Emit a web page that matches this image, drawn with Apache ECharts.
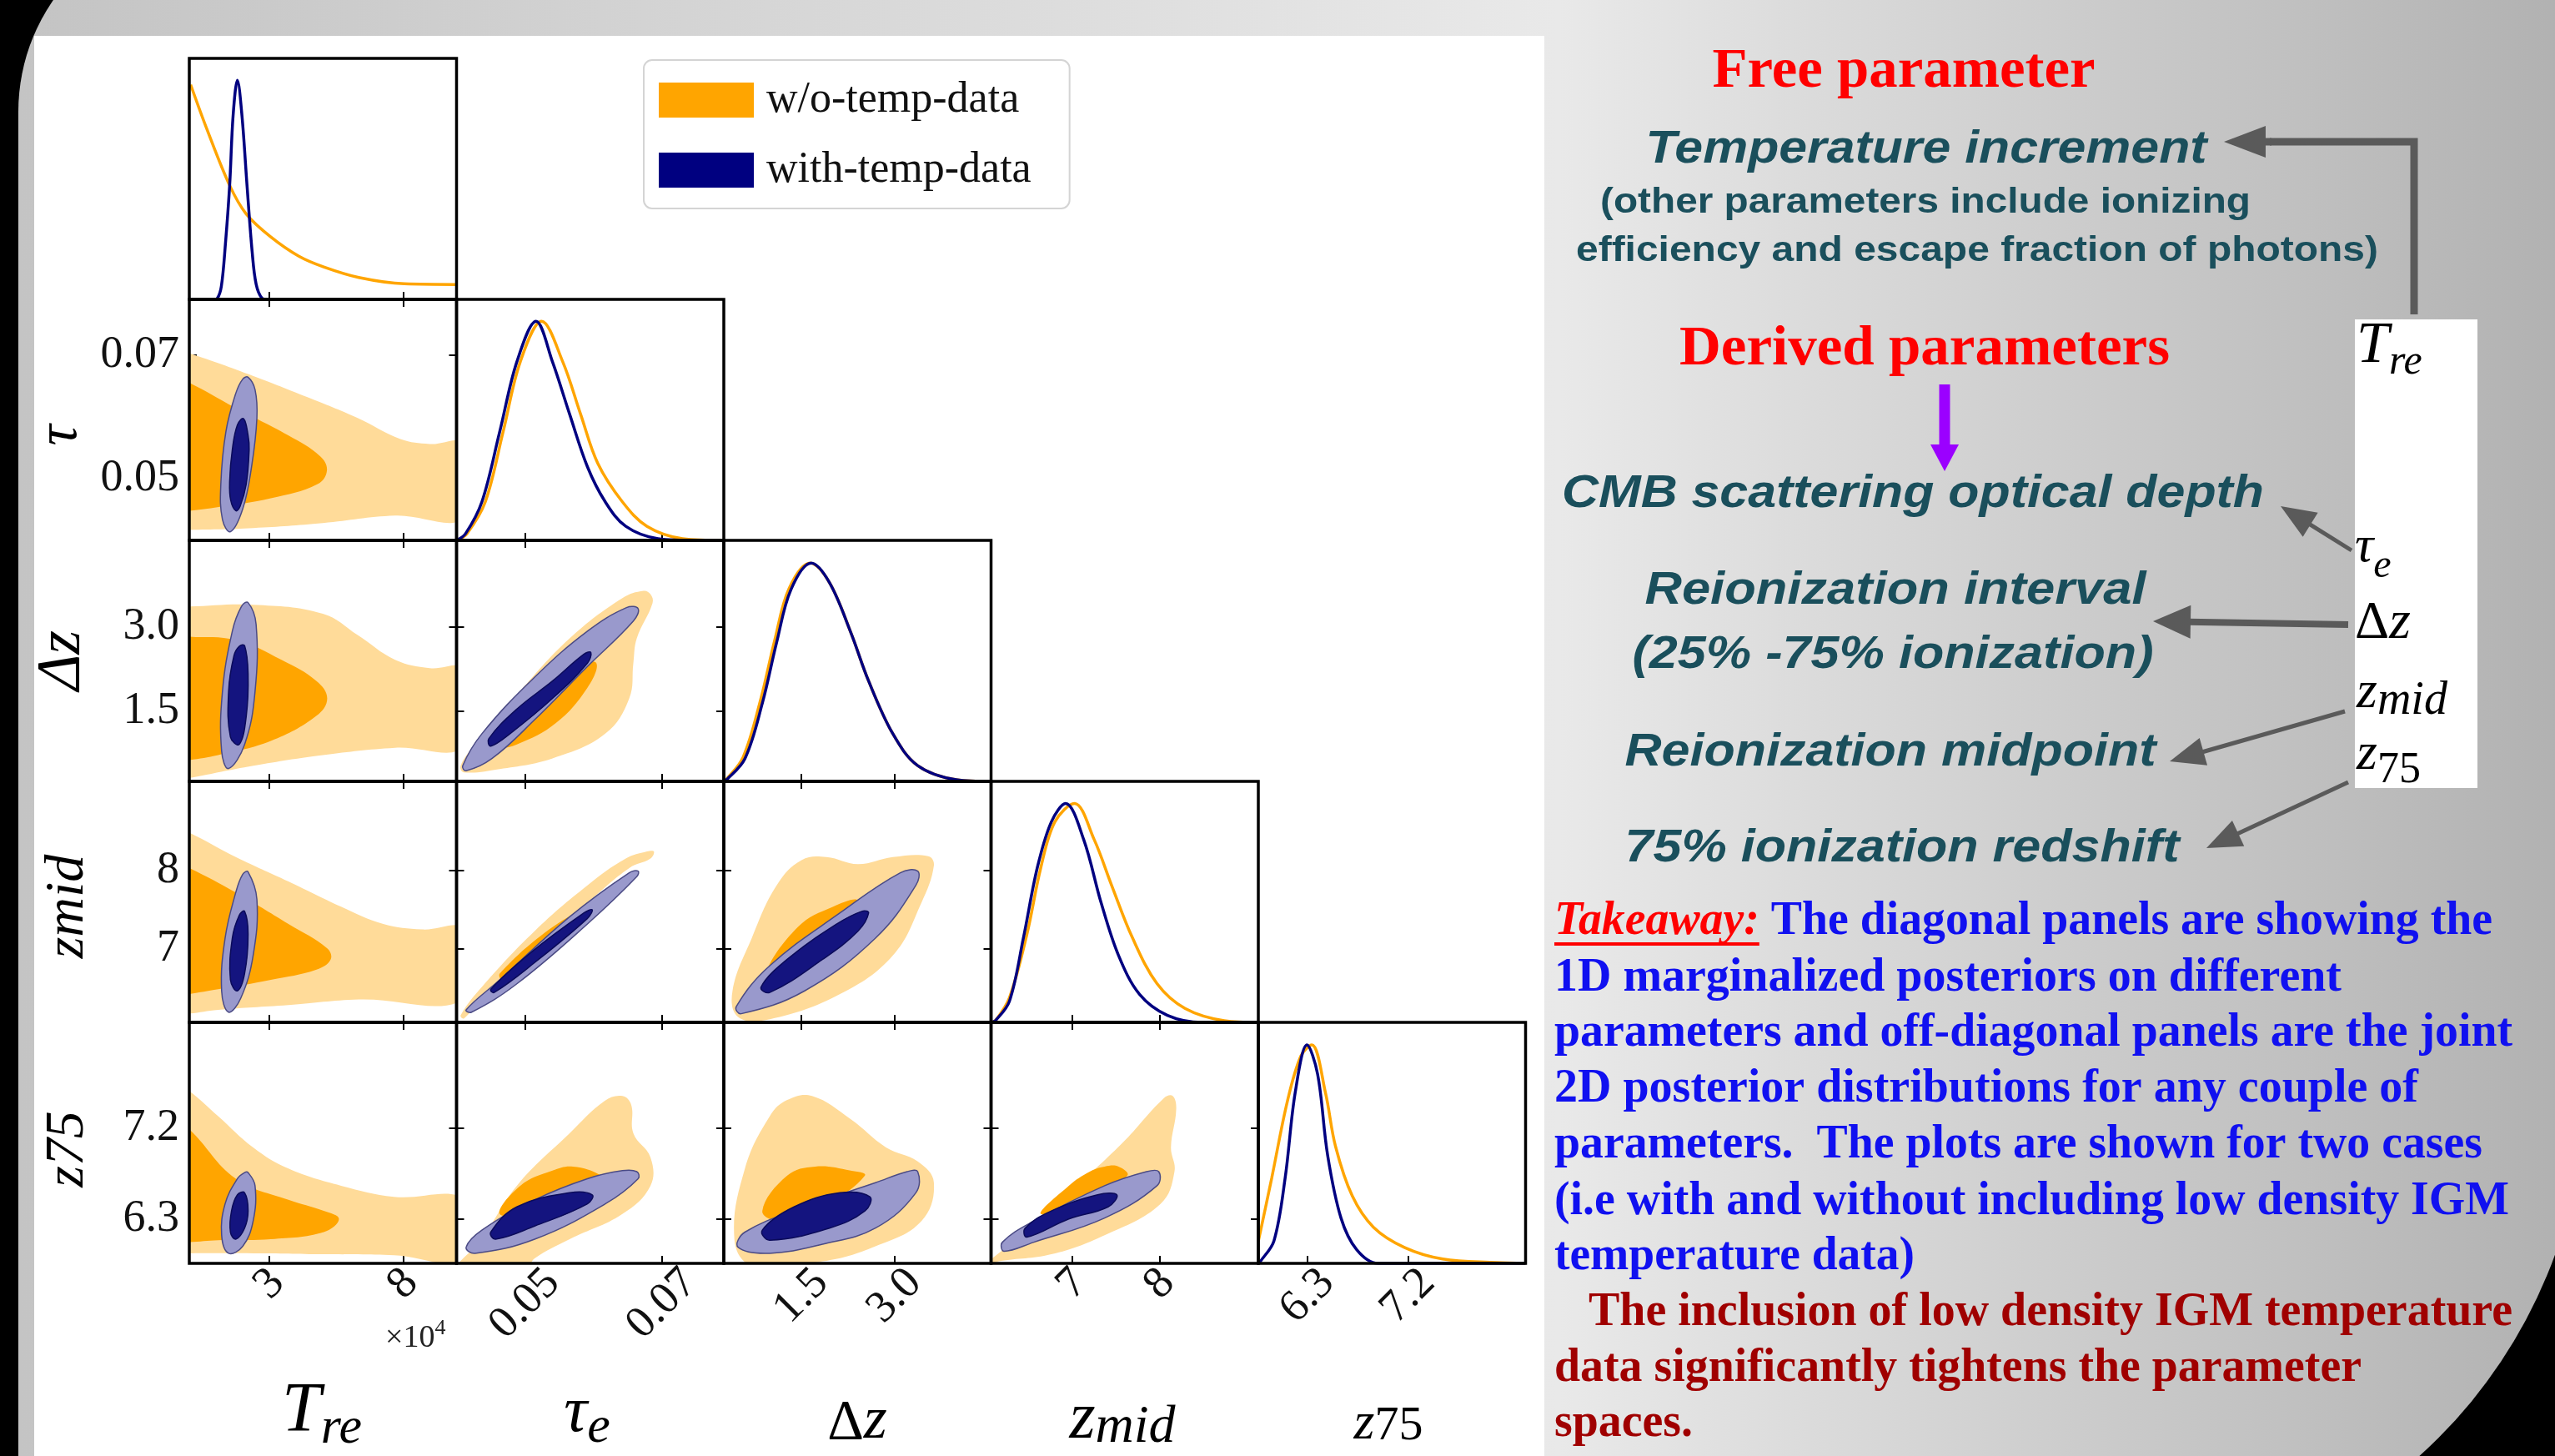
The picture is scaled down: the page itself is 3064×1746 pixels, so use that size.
<!DOCTYPE html>
<html lang="en">
<head>
<meta charset="UTF-8">
<title>Reionization posteriors</title>
<script src="https://cdn.jsdelivr.net/npm/echarts@6/dist/echarts.min.js"></script>
<style>
  html, body { margin: 0; padding: 0; background: #000; }
  #main { width: 3064px; height: 1746px; }
</style>
</head>
<body>
<div id="main"></div>
<script>
var chartDom = document.getElementById('main');
var myChart = echarts.init(chartDom);

// parameters: T_re (x1e4), tau_e, delta z, z_mid, z_75
var paramMin = [0, 0.040, 0.25, 6.07, 5.86];
var paramMax = [10, 0.079, 4.55, 9.13, 8.25];
var paramTicks = [[3, 8], [0.05, 0.07], [1.5, 3.0], [7, 8], [6.3, 7.2]];
var paramDigits = [0, 2, 1, 0, 1];

// 1D marginals, [value, normalised density]
var margT_wo = [[0.05, 0.98], [0.68, 0.77], [1.51, 0.52], [2.13, 0.39], [3.05, 0.285], [4.1, 0.197], [5.03, 0.148], [6.34, 0.1], [8.05, 0.071], [10, 0.068]];
var margT_with = [[0.9, 0], [1.05, 0.005], [1.2, 0.06], [1.35, 0.25], [1.51, 0.52], [1.64, 0.84], [1.8, 1.0], [1.97, 0.84], [2.16, 0.52], [2.35, 0.22], [2.5, 0.07], [2.72, 0.005], [2.9, 0]];
var margTau_wo = [[0.0400, 0], [0.0415, 0.03], [0.0442, 0.176], [0.0468, 0.496], [0.0493, 0.815], [0.0524, 1.0], [0.0555, 0.815], [0.0581, 0.576], [0.0606, 0.352], [0.0642, 0.176], [0.0678, 0.064], [0.073, 0.008], [0.079, 0]];
var margTau_with = [[0.0400, 0], [0.0413, 0.03], [0.0437, 0.176], [0.0463, 0.496], [0.0488, 0.815], [0.0516, 1.0], [0.054, 0.815], [0.0565, 0.576], [0.0591, 0.336], [0.0617, 0.176], [0.0647, 0.064], [0.0694, 0.008], [0.075, 0]];
var margDz_wo = [[0.25, 0], [0.28, 0.005], [0.56, 0.11], [0.84, 0.37], [1.07, 0.645], [1.30, 0.88], [1.64, 0.996], [1.95, 0.907], [2.29, 0.682], [2.58, 0.458], [2.97, 0.217], [3.37, 0.072], [3.99, 0.008], [4.55, 0]];
var margDz_with = [[0.25, 0], [0.28, 0.003], [0.59, 0.104], [0.874, 0.361], [1.10, 0.634], [1.33, 0.875], [1.657, 0.996], [1.95, 0.907], [2.29, 0.682], [2.58, 0.458], [2.97, 0.217], [3.37, 0.072], [3.99, 0.008], [4.55, 0]];
var margZmid_wo = [[6.07, 0], [6.12, 0.008], [6.28, 0.112], [6.48, 0.401], [6.64, 0.707], [6.80, 0.915], [7.025, 0.999], [7.25, 0.835], [7.45, 0.626], [7.69, 0.385], [7.97, 0.177], [8.29, 0.064], [8.74, 0.008], [9.13, 0]];
var margZmid_with = [[6.07, 0], [6.12, 0.008], [6.28, 0.096], [6.44, 0.385], [6.60, 0.707], [6.76, 0.915], [6.924, 0.999], [7.13, 0.835], [7.33, 0.546], [7.53, 0.305], [7.77, 0.128], [8.09, 0.032], [8.49, 0], [9.13, 0]];
var margZ75_wo = [[5.86, 0.1], [5.98, 0.39], [6.12, 0.74], [6.24, 0.946], [6.338, 0.997], [6.46, 0.78], [6.55, 0.535], [6.70, 0.308], [6.89, 0.165], [7.17, 0.072], [7.51, 0.02], [7.99, 0.004], [8.25, 0]];
var margZ75_with = [[5.86, 0], [5.88, 0.01], [6.0, 0.103], [6.10, 0.39], [6.19, 0.78], [6.295, 0.997], [6.39, 0.864], [6.48, 0.493], [6.60, 0.206], [6.74, 0.062], [6.93, 0], [8.25, 0]];

// 2D contours (outer = 95%, inner = 68%), [x, y] in data units
var tauT_woOuter = [[-0.3, 0.0705], [0, 0.0703], [2.4, 0.0666], [4.4, 0.0632], [6.3, 0.0598], [7.9, 0.0564], [9, 0.0556], [10.3, 0.0556], [10.3, 0.0437], [7.7, 0.044], [5, 0.0428], [2.4, 0.042], [0, 0.0417], [-0.3, 0.0417]];
var tauT_woInner = [[-0.3, 0.0657], [0, 0.0655], [1.7, 0.0615], [3.7, 0.057], [4.9, 0.0536], [5.15, 0.0513], [4.8, 0.0491], [3.05, 0.0468], [1.1, 0.0454], [0, 0.0448], [-0.3, 0.0448]];
var tauT_wOuter = [[2.2, 0.0664], [2.46, 0.0644], [2.53, 0.0598], [2.33, 0.0519], [2.0, 0.0451], [1.54, 0.0414], [1.24, 0.0434], [1.18, 0.0491], [1.37, 0.0576], [1.74, 0.0638], [2.0, 0.0661]];
var tauT_wInner = [[2.03, 0.0597], [2.2, 0.057], [2.24, 0.0547], [2.13, 0.0491], [1.9, 0.0455], [1.74, 0.0448], [1.55, 0.0465], [1.51, 0.0495], [1.61, 0.0547], [1.8, 0.0587]];

var dzT_woOuter = [[-0.3, 3.37], [0, 3.37], [2.4, 3.40], [5.0, 3.24], [6.3, 2.86], [7.7, 2.42], [9, 2.27], [10.3, 2.25], [10.3, 0.88], [7.7, 0.85], [5, 0.72], [2.4, 0.53], [0, 0.31], [-0.3, 0.29]];
var dzT_woInner = [[-0.3, 2.84], [0, 2.83], [1.74, 2.77], [3.45, 2.42], [4.76, 2.04], [5.16, 1.73], [4.76, 1.42], [3.05, 0.97], [1.08, 0.72], [0, 0.63], [-0.3, 0.62]];
var dzT_wOuter = [[2.2, 3.44], [2.5, 3.05], [2.46, 1.85], [2.07, 0.91], [1.47, 0.48], [1.21, 0.79], [1.24, 1.85], [1.61, 2.93], [1.95, 3.37]];
var dzT_wInner = [[2.07, 2.67], [2.2, 2.17], [2.13, 1.41], [1.87, 0.91], [1.54, 1.04], [1.47, 1.85], [1.67, 2.49], [1.87, 2.66]];

var zmidT_woOuter = [[-0.3, 8.5], [0, 8.48], [1.74, 8.17], [3.71, 7.86], [5.68, 7.54], [7.26, 7.32], [8.71, 7.25], [10.3, 7.25], [10.3, 6.37], [6.34, 6.36], [3.71, 6.29], [1.08, 6.23], [0, 6.18], [-0.3, 6.17]];
var zmidT_woInner = [[-0.3, 8.05], [0, 8.03], [1.74, 7.72], [3.71, 7.32], [5.16, 7.01], [5.29, 6.87], [4.76, 6.74], [3.05, 6.61], [1.08, 6.49], [0, 6.43], [-0.3, 6.42]];
var zmidT_wOuter = [[2.2, 7.98], [2.53, 7.63], [2.39, 6.92], [1.93, 6.38], [1.47, 6.2], [1.21, 6.47], [1.34, 7.14], [1.74, 7.72], [2.0, 7.95]];
var zmidT_wInner = [[2.07, 7.48], [2.2, 7.19], [2.07, 6.69], [1.8, 6.47], [1.54, 6.61], [1.61, 7.14], [1.87, 7.43]];

var z75T_woOuter = [[-0.3, 7.6], [0, 7.57], [1.08, 7.32], [2.39, 7.01], [3.71, 6.80], [5.68, 6.63], [7.66, 6.52], [10.3, 6.49], [10.3, 5.90], [7.66, 5.94], [5.03, 5.95], [2.39, 5.96], [0, 5.96], [-0.3, 5.96]];
var z75T_woInner = [[-0.3, 7.2], [0, 7.19], [1.74, 6.70], [3.71, 6.49], [5.03, 6.38], [5.6, 6.30], [5.03, 6.17], [3.05, 6.10], [1.08, 6.09], [0, 6.07], [-0.3, 6.07]];
var z75T_wOuter = [[2.2, 6.76], [2.46, 6.63], [2.39, 6.28], [2.0, 6.03], [1.47, 5.96], [1.21, 6.14], [1.34, 6.45], [1.8, 6.70], [2.07, 6.76]];
var z75T_wInner = [[2.07, 6.56], [2.2, 6.38], [2.07, 6.21], [1.74, 6.10], [1.54, 6.17], [1.58, 6.38], [1.8, 6.54]];

var dzTau_woOuter = [[0.0683, 3.59], [0.0686, 3.43], [0.0663, 2.80], [0.0658, 2.36], [0.0652, 1.73], [0.0617, 1.10], [0.054, 0.66], [0.0463, 0.47], [0.0411, 0.41], [0.0406, 0.53], [0.0427, 0.91], [0.0488, 1.79], [0.0565, 2.80], [0.0642, 3.52], [0.0673, 3.65]];
var dzTau_woInner = [[0.0452, 0.97], [0.0514, 1.73], [0.0575, 2.30], [0.0604, 2.36], [0.0591, 1.92], [0.0545, 1.29], [0.0488, 0.91], [0.0457, 0.85]];
var dzTau_wOuter = [[0.0665, 3.33], [0.0658, 3.11], [0.0591, 2.30], [0.0514, 1.35], [0.0452, 0.66], [0.0414, 0.44], [0.0409, 0.53], [0.0437, 1.10], [0.0514, 2.11], [0.0591, 2.93], [0.0648, 3.35]];
var dzTau_wInner = [[0.0596, 2.55], [0.0591, 2.36], [0.054, 1.73], [0.0478, 1.10], [0.045, 0.88], [0.0447, 1.01], [0.0488, 1.54], [0.054, 2.04], [0.0586, 2.52]];

var zmidTau_woOuter = [[0.0688, 8.24], [0.0683, 8.15], [0.0652, 8.03], [0.0591, 7.59], [0.0514, 7.01], [0.0437, 6.38], [0.0411, 6.12], [0.0406, 6.16], [0.0437, 6.52], [0.0514, 7.23], [0.0591, 7.81], [0.0647, 8.15], [0.0678, 8.24]];
var zmidTau_woInner = [[0.0463, 6.69], [0.054, 7.28], [0.0598, 7.54], [0.0596, 7.46], [0.054, 7.10], [0.0468, 6.61]];
var zmidTau_wOuter = [[0.0665, 7.99], [0.0663, 7.92], [0.0591, 7.32], [0.0488, 6.56], [0.0422, 6.20], [0.0414, 6.23], [0.0463, 6.61], [0.0565, 7.41], [0.0652, 7.97]];
var zmidTau_wInner = [[0.0598, 7.50], [0.0591, 7.39], [0.0514, 6.83], [0.0455, 6.45], [0.045, 6.49], [0.0509, 6.96], [0.0586, 7.46]];

var z75Tau_woOuter = [[0.0642, 7.52], [0.0655, 7.43], [0.0658, 7.15], [0.0683, 6.91], [0.0683, 6.63], [0.0642, 6.35], [0.0565, 6.10], [0.0514, 5.91], [0.050, 5.80], [0.0402, 5.80], [0.0437, 6.10], [0.0488, 6.63], [0.0565, 7.15], [0.0616, 7.47]];
var z75Tau_woInner = [[0.057, 6.82], [0.0611, 6.73], [0.0617, 6.63], [0.0514, 6.38], [0.0463, 6.35], [0.0493, 6.63], [0.054, 6.78]];
var z75Tau_wOuter = [[0.0663, 6.77], [0.0665, 6.70], [0.0617, 6.45], [0.0514, 6.10], [0.0427, 5.96], [0.0414, 6.02], [0.0437, 6.19], [0.0514, 6.49], [0.0591, 6.70], [0.0642, 6.78]];
var z75Tau_wInner = [[0.0598, 6.54], [0.0591, 6.45], [0.0514, 6.23], [0.0457, 6.10], [0.045, 6.17], [0.0488, 6.42], [0.0565, 6.56]];

var zmidDz_woOuter = [[1.90, 8.17], [2.41, 8.08], [2.97, 8.17], [3.54, 8.18], [3.63, 8.06], [3.43, 7.59], [2.97, 6.92], [2.12, 6.43], [0.99, 6.11], [0.48, 6.14], [0.39, 6.47], [0.70, 7.14], [1.10, 7.81], [1.50, 8.13]];
var zmidDz_woInner = [[0.93, 6.69], [1.44, 7.28], [2.01, 7.54], [2.41, 7.61], [2.12, 7.14], [1.27, 6.74]];
var zmidDz_wOuter = [[3.37, 7.99], [3.34, 7.81], [2.69, 7.14], [1.55, 6.47], [0.53, 6.18], [0.45, 6.27], [0.99, 6.79], [2.12, 7.46], [3.09, 7.97]];
var zmidDz_wInner = [[2.58, 7.46], [2.41, 7.23], [1.84, 6.87], [0.99, 6.45], [0.85, 6.52], [1.27, 6.87], [2.07, 7.32], [2.47, 7.48]];

var z75Dz_woOuter = [[1.67, 7.52], [2.29, 7.29], [2.86, 7.01], [3.37, 6.87], [3.63, 6.66], [3.43, 6.28], [2.69, 6.03], [1.84, 5.88], [0.70, 5.84], [0.42, 6.10], [0.59, 6.80], [0.99, 7.32], [1.27, 7.48]];
var z75Dz_woInner = [[0.87, 6.38], [1.27, 6.73], [1.72, 6.82], [2.29, 6.78], [2.52, 6.73], [1.84, 6.42], [1.16, 6.28]];
var z75Dz_wOuter = [[3.37, 6.77], [3.34, 6.56], [2.69, 6.21], [1.84, 6.05], [0.99, 5.96], [0.48, 6.02], [0.59, 6.17], [1.55, 6.42], [2.69, 6.66], [3.2, 6.77]];
var z75Dz_wInner = [[2.60, 6.52], [2.52, 6.38], [1.95, 6.21], [0.99, 6.09], [0.87, 6.19], [1.38, 6.42], [2.12, 6.56]];

var z75Zmid_woOuter = [[8.15, 7.52], [8.19, 7.39], [8.13, 7.01], [8.17, 6.77], [8.01, 6.45], [7.37, 6.14], [6.76, 5.95], [6.16, 5.88], [6.0, 5.84], [6.36, 6.10], [6.96, 6.56], [7.57, 7.05], [8.05, 7.50]];
var z75Zmid_woInner = [[7.37, 6.82], [7.53, 6.82], [7.63, 6.73], [7.17, 6.49], [6.64, 6.35], [6.96, 6.63], [7.2, 6.77]];
var z75Zmid_wOuter = [[7.99, 6.77], [7.97, 6.63], [7.37, 6.31], [6.56, 6.07], [6.22, 5.98], [6.2, 6.07], [6.56, 6.28], [7.37, 6.63], [7.85, 6.77]];
var z75Zmid_wInner = [[7.51, 6.54], [7.41, 6.42], [6.96, 6.30], [6.48, 6.12], [6.46, 6.21], [6.76, 6.38], [7.29, 6.54]];

var margTable = [[margT_wo, margT_with], [margTau_wo, margTau_with], [margDz_wo, margDz_with], [margZmid_wo, margZmid_with], [margZ75_wo, margZ75_with]];
var contourTable = {
  '1,0': [tauT_woOuter, tauT_woInner, tauT_wOuter, tauT_wInner],
  '2,0': [dzT_woOuter, dzT_woInner, dzT_wOuter, dzT_wInner],
  '3,0': [zmidT_woOuter, zmidT_woInner, zmidT_wOuter, zmidT_wInner],
  '4,0': [z75T_woOuter, z75T_woInner, z75T_wOuter, z75T_wInner],
  '2,1': [dzTau_woOuter, dzTau_woInner, dzTau_wOuter, dzTau_wInner],
  '3,1': [zmidTau_woOuter, zmidTau_woInner, zmidTau_wOuter, zmidTau_wInner],
  '4,1': [z75Tau_woOuter, z75Tau_woInner, z75Tau_wOuter, z75Tau_wInner],
  '3,2': [zmidDz_woOuter, zmidDz_woInner, zmidDz_wOuter, zmidDz_wInner],
  '4,2': [z75Dz_woOuter, z75Dz_woInner, z75Dz_wOuter, z75Dz_wInner],
  '4,3': [z75Zmid_woOuter, z75Zmid_woInner, z75Zmid_wOuter, z75Zmid_wInner]
};

var SERIF = '"Liberation Serif", "Times New Roman", serif';
var SANS = '"Liberation Sans", Arial, sans-serif';
var ORANGE = '#FFA500', ORANGE_LIGHT = '#FFDB99';
var NAVY = '#000080', NAVY_LIGHT = '#9999CC', NAVY_DARK = '#14147F';
var TEAL = '#1a4f5c', BLUE = '#1010f0', DARKRED = '#a00000', GREY = '#5a5a5a';

var LEFT0 = 227, TOP0 = 70, CELL_W = 320.5, CELL_H = 289, N = 5;
var TICK_FONT = 54;

var mctx = document.createElement('canvas').getContext('2d');
function measure(s, font) {
  mctx.font = font;
  return mctx.measureText(s).width;
}

// rotated x labels are centred under their tick, like matplotlib's ha='center'
function xLabelMargin(p) {
  var w = 0;
  paramTicks[p].forEach(function (v) {
    w = Math.max(w, measure(v.toFixed(paramDigits[p]), TICK_FONT + 'px ' + SERIF));
  });
  return 0.3536 * (w + 0.7 * TICK_FONT) + 2;
}

function makeAxis(g, p, pos, labels) {
  var isX = pos === 'bottom' || pos === 'top';
  var label = {
    show: labels, customValues: paramTicks[p],
    margin: 12, fontSize: TICK_FONT, fontFamily: SERIF, color: '#111',
    formatter: function (v) { return (+v).toFixed(paramDigits[p]); }
  };
  if (isX) {
    label.rotate = 45;
    label.align = 'center';
    label.verticalAlign = 'middle';
    label.margin = xLabelMargin(p);
  }
  return {
    gridIndex: g, type: 'value', position: pos,
    min: paramMin[p], max: paramMax[p],
    axisLine: { show: false, onZero: false },
    splitLine: { show: false },
    axisTick: { show: true, inside: true, length: 9, lineStyle: { color: '#000', width: 2 }, customValues: paramTicks[p] },
    axisLabel: label
  };
}

function contourSeries(name, xi, yi, polys, fills, strokes, z) {
  return {
    type: 'custom', name: name, xAxisIndex: xi, yAxisIndex: yi,
    clip: true, silent: true, z: z,
    itemStyle: { color: name === 'w/o-temp-data' ? ORANGE : NAVY },
    data: polys.map(function (p, k) { return [p[0][0], p[0][1], k]; }),
    renderItem: function (params, api) {
      var k = api.value(2);
      var pts = polys[k].map(function (p) { return api.coord(p); });
      return {
        type: 'polygon',
        shape: { points: pts, smooth: 0.4 },
        style: { fill: fills[k], stroke: strokes[k] || 'none', lineWidth: strokes[k] ? 1.5 : 0 }
      };
    }
  };
}

function lineSeries(name, xi, yi, data, color, z) {
  return {
    type: 'line', name: name, xAxisIndex: xi, yAxisIndex: yi, data: data,
    smooth: 0.35, showSymbol: false, silent: true, z: z,
    lineStyle: { color: color, width: 3.5 }, itemStyle: { color: color }
  };
}

var grids = [], xAxes = [], yAxes = [], contourList = [], lineList = [], els = [];

for (var i = 0; i < N; i++) {
  for (var j = 0; j <= i; j++) {
    var g = grids.length;
    var cellLeft = LEFT0 + j * CELL_W, cellTop = TOP0 + i * CELL_H;
    grids.push({ left: cellLeft, top: cellTop, width: CELL_W, height: CELL_H, show: false });
    var xi = xAxes.length;
    xAxes.push(makeAxis(g, j, 'bottom', i === N - 1));
    var yi = yAxes.length;
    if (i === j) {
      yAxes.push({ gridIndex: g, type: 'value', min: 0, max: 1.1, show: false });
      lineList.push(lineSeries('w/o-temp-data', xi, yi, margTable[i][0], ORANGE, 5));
      lineList.push(lineSeries('with-temp-data', xi, yi, margTable[i][1], NAVY, 6));
    } else {
      yAxes.push(makeAxis(g, i, 'left', j === 0));
      xAxes.push(makeAxis(g, j, 'top', false));
      yAxes.push(makeAxis(g, i, 'right', false));
      var c = contourTable[i + ',' + j];
      contourList.push(contourSeries('w/o-temp-data', xi, yi, [c[0], c[1]], [ORANGE_LIGHT, ORANGE], [null, null], 2));
      contourList.push(contourSeries('with-temp-data', xi, yi, [c[2], c[3]], [NAVY_LIGHT, NAVY_DARK], ['#4b4b85', '#0b0b5a'], 3));
    }
    els.push({
      type: 'rect', z: 20, silent: true,
      shape: { x: cellLeft, y: cellTop, width: CELL_W, height: CELL_H },
      style: { fill: 'none', stroke: '#000', lineWidth: 3.5 }
    });
  }
}

// text helpers
function textEl(s, x, baseline, font, fs, fill, align, sx, rot) {
  var el = {
    type: 'text', x: x, y: baseline - 0.34 * fs, z: 30, silent: true,
    style: { text: s, font: font, fill: fill, align: align, verticalAlign: 'middle' }
  };
  if (sx && isFinite(sx)) el.scaleX = sx;
  if (rot) { el.rotation = rot; el.y = baseline; }
  return el;
}
function fitText(s, cx, baseline, font, fs, fill, width) {
  var sx = width / measure(s, font);
  return textEl(s, cx, baseline, font, fs, fill, 'center', sx);
}
function fontPx(font) {
  return parseFloat(font.match(/(\d+)px/)[1]);
}
function mathName(parts, cx, baseline) {
  var total = 0;
  parts.forEach(function (p) { total += measure(p[0], p[1]); });
  var x = cx - total / 2;
  parts.forEach(function (p) {
    els.push(textEl(p[0], x, baseline + (p[2] || 0), p[1], fontPx(p[1]), '#000', 'left'));
    x += measure(p[0], p[1]);
  });
}
function arrow(x1, y1, x2, y2, lw, hl, hw, color) {
  var dx = x2 - x1, dy = y2 - y1, len = Math.sqrt(dx * dx + dy * dy);
  var ux = dx / len, uy = dy / len;
  var bx = x2 - ux * hl, by = y2 - uy * hl;
  els.push({ type: 'line', z: 40, silent: true, shape: { x1: x1, y1: y1, x2: bx + ux * 2, y2: by + uy * 2 }, style: { stroke: color, lineWidth: lw } });
  els.push({ type: 'polygon', z: 40, silent: true, shape: { points: [[x2, y2], [bx - uy * hw, by + ux * hw], [bx + uy * hw, by - ux * hw]] }, style: { fill: color } });
}

// slide background, white figure area, white label box
els.push({
  type: 'rect', z: -10, silent: true,
  shape: { x: 22, y: -101, width: 3078, height: 2001, r: [235, 0, 600, 0] },
  style: {
    fill: { type: 'linear', x: 0, y: 0, x2: 1, y2: 0, colorStops: [
      { offset: 0, color: '#c4c4c4' }, { offset: 0.6, color: '#e9e9e9' }, { offset: 1, color: '#b0b0b0' }
    ] }
  }
});
els.push({ type: 'rect', z: -9, silent: true, shape: { x: 41, y: 43, width: 1811, height: 1710 }, style: { fill: '#fff' } });
els.push({ type: 'rect', z: -9, silent: true, shape: { x: 2824, y: 383, width: 147, height: 562 }, style: { fill: '#fff' } });

// axis names
var SI = 'italic ';
mathName([['T', SI + '84px ' + SERIF], ['re', SI + '62px ' + SERIF, 13]], 386, 1722);
mathName([['τ', SI + '78px ' + SERIF], ['e', SI + '62px ' + SERIF, 12]], 704, 1722);
mathName([['Δ', '68px ' + SERIF], ['z', SI + '72px ' + SERIF]], 1028, 1730);
mathName([['z', SI + '80px ' + SERIF], ['mid', SI + '64px ' + SERIF, 4]], 1346, 1730);
mathName([['z', SI + '64px ' + SERIF], ['75', '58px ' + SERIF]], 1665, 1730);
els.push(textEl('τ', 73, 522, SI + '70px ' + SERIF, 70, '#000', 'center', null, Math.PI / 2));
els.push(textEl('Δz', 76, 792, SI + '74px ' + SERIF, 74, '#000', 'center', null, Math.PI / 2));
els.push(textEl('zmid', 82, 1087, SI + '66px ' + SERIF, 66, '#000', 'center', null, Math.PI / 2));
els.push(textEl('z75', 82, 1378, SI + '66px ' + SERIF, 66, '#000', 'center', null, Math.PI / 2));
els.push(textEl('×10', 462, 1618, '38px ' + SERIF, 38, '#222', 'left'));
els.push(textEl('4', 462 + measure('×10', '38px ' + SERIF), 1602, '26px ' + SERIF, 26, '#222', 'left'));

// right-hand notes
var RED_HEAD = 'bold 68px ' + SERIF, TEAL_BIG = 'italic bold 56px ' + SANS, TEAL_SMALL = 'bold 43px ' + SANS;
els.push(fitText('Free parameter', 2283, 110, RED_HEAD, 68, '#ff0000', 459));
els.push(fitText('Temperature increment', 2310, 199, TEAL_BIG, 56, TEAL, 673));
els.push(fitText('(other parameters include ionizing', 2309, 258, TEAL_SMALL, 43, TEAL, 780));
els.push(fitText('efficiency and escape fraction of photons)', 2371, 316, TEAL_SMALL, 43, TEAL, 962));
els.push(fitText('Derived parameters', 2308, 443, RED_HEAD, 68, '#ff0000', 588));
els.push(fitText('CMB scattering optical depth', 2294, 612, TEAL_BIG, 56, TEAL, 842));
els.push(fitText('Reionization interval', 2273, 728, TEAL_BIG, 56, TEAL, 601));
els.push(fitText('(25% -75% ionization)', 2270, 805, TEAL_BIG, 56, TEAL, 625));
els.push(fitText('Reionization midpoint', 2267, 922, TEAL_BIG, 56, TEAL, 637));
els.push(fitText('75% ionization redshift', 2281, 1037, TEAL_BIG, 56, TEAL, 665));

function boxLabel(main, mainFont, sub, subFont, x, base, subBase) {
  els.push(textEl(main, x, base, mainFont, fontPx(mainFont), '#000', 'left'));
  els.push(textEl(sub, x + measure(main, mainFont), subBase, subFont, fontPx(subFont), '#000', 'left'));
}
boxLabel('T', SI + '70px ' + SERIF, 're', SI + '50px ' + SERIF, 2826, 439, 452);
boxLabel('τ', SI + '62px ' + SERIF, 'e', SI + '48px ' + SERIF, 2824, 678, 696);
boxLabel('Δ', '64px ' + SERIF, 'z', SI + '66px ' + SERIF, 2824, 770, 770);
boxLabel('z', SI + '64px ' + SERIF, 'mid', SI + '56px ' + SERIF, 2826, 853, 860);
boxLabel('z', SI + '64px ' + SERIF, '75', '52px ' + SERIF, 2826, 927, 942);

// arrows
els.push({ type: 'polyline', z: 40, silent: true, shape: { points: [[2895, 377], [2895, 170], [2722, 170]] }, style: { stroke: GREY, lineWidth: 9, fill: 'none' } });
arrow(2724, 170, 2667, 170, 9, 50, 19, GREY);
arrow(2820, 660, 2735, 607, 5, 42, 17, GREY);
arrow(2816, 749, 2582, 745, 8, 45, 20, GREY);
arrow(2812, 853, 2602, 913, 5, 42, 17, GREY);
arrow(2816, 938, 2646, 1017, 5, 42, 17, GREY);
arrow(2332, 461, 2332, 565, 13, 32, 17, '#9b00ff');

// takeaway paragraph
var takeLines = [
  [['Takeaway:', 'italic bold', '#ff0000', true], [' The diagonal panels are showing the', 'bold', BLUE]],
  [['1D marginalized posteriors on different', 'bold', BLUE]],
  [['parameters and off-diagonal panels are the joint', 'bold', BLUE]],
  [['2D posterior distributions for any couple of', 'bold', BLUE]],
  [['parameters.  The plots are shown for two cases', 'bold', BLUE]],
  [['(i.e with and without including low density IGM', 'bold', BLUE]],
  [['temperature data)', 'bold', BLUE]],
  [['The inclusion of low density IGM temperature', 'bold', DARKRED]],
  [['data significantly tightens the parameter', 'bold', DARKRED]],
  [['spaces.', 'bold', DARKRED]]
];
var takeBase = [1125, 1193, 1259, 1326, 1393, 1461, 1527, 1594, 1661, 1727];
var takeLeft = [1864, 1864, 1864, 1864, 1864, 1864, 1864, 1905, 1864, 1864];
var takeWidth = [1125, 944, 1149, 1036, 1113, 1145, 432, 1108, 968, 166];
takeLines.forEach(function (parts, k) {
  var fs = 56, nat = 0;
  parts.forEach(function (p) { nat += measure(p[0], p[1] + ' ' + fs + 'px ' + SERIF); });
  var sx = takeWidth[k] / nat;
  var x = takeLeft[k];
  parts.forEach(function (p) {
    var font = p[1] + ' ' + fs + 'px ' + SERIF;
    var w = measure(p[0], font) * sx;
    els.push(textEl(p[0], x, takeBase[k], font, fs, p[2], 'left', sx));
    if (p[3]) {
      els.push({ type: 'line', z: 30, silent: true, shape: { x1: x, y1: takeBase[k] + 7, x2: x + w, y2: takeBase[k] + 7 }, style: { stroke: p[2], lineWidth: 4 } });
    }
    x += w;
  });
});

var option = {
  backgroundColor: '#000',
  animation: false,
  grid: grids,
  xAxis: xAxes,
  yAxis: yAxes,
  legend: {
    orient: 'vertical', left: 772, top: 72,
    padding: [22, 46, 20, 18],
    itemWidth: 114, itemHeight: 42, itemGap: 32,
    selectedMode: false,
    backgroundColor: '#fff', borderColor: '#d4d4d4', borderWidth: 2, borderRadius: 10,
    textStyle: { fontFamily: SERIF, fontSize: 52, color: '#111', lineHeight: 42, padding: [0, 0, 0, 10] },
    data: [
      { name: 'w/o-temp-data', icon: 'rect', itemStyle: { color: ORANGE } },
      { name: 'with-temp-data', icon: 'rect', itemStyle: { color: NAVY } }
    ]
  },
  graphic: { elements: els },
  series: contourList.concat(lineList)
};

myChart.setOption(option);
</script>
</body>
</html>
